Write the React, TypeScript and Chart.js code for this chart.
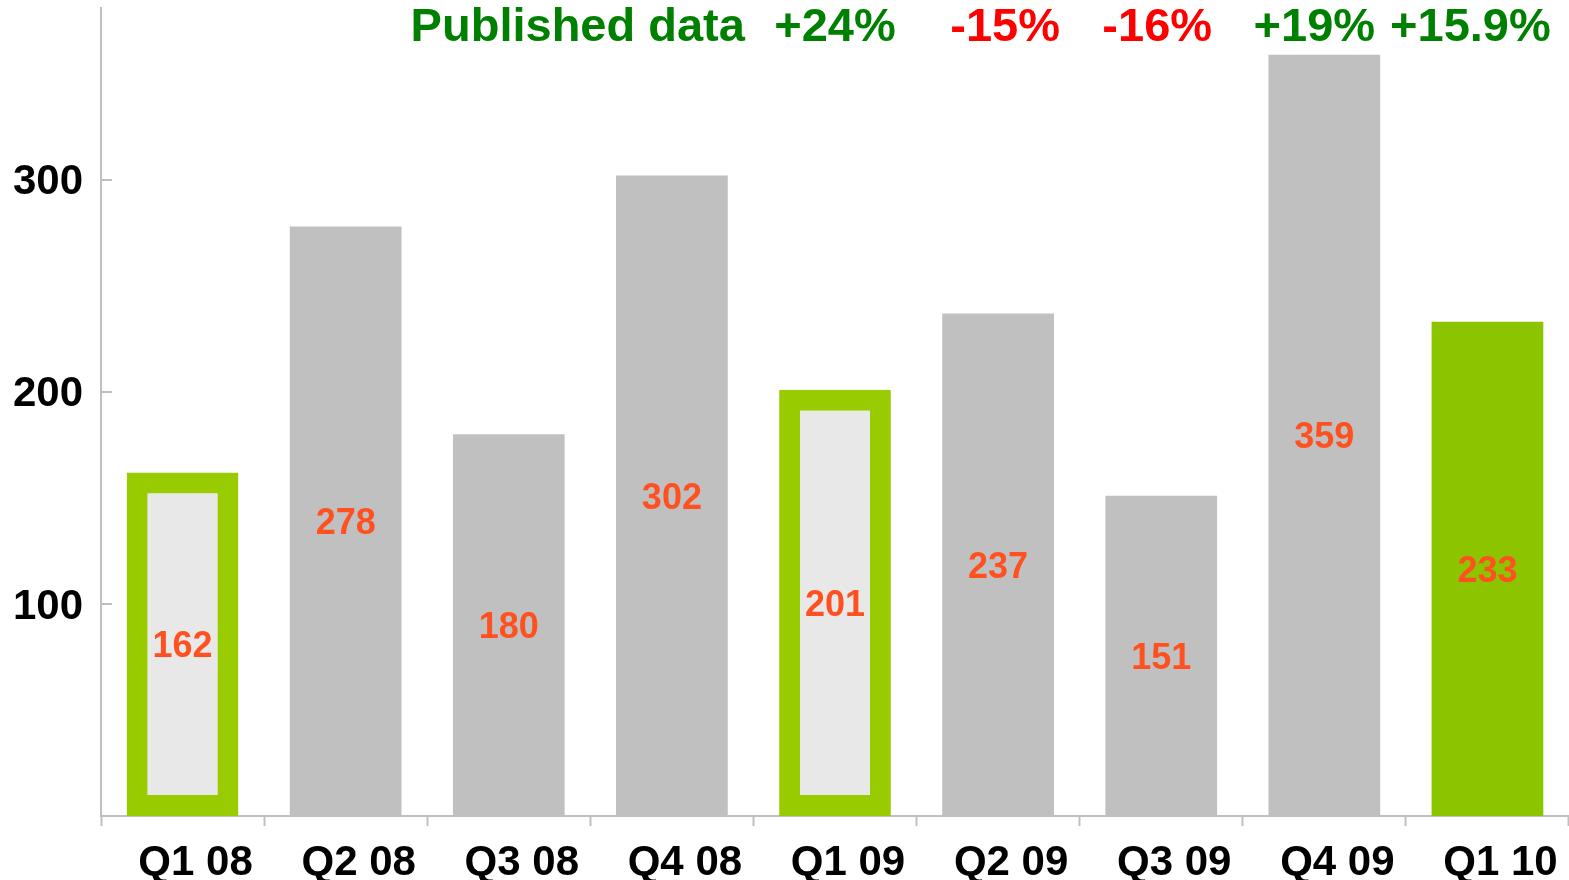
import React, { useEffect, useRef } from "react";
import { Chart, registerables } from "chart.js";

Chart.register(...registerables);

const categories = ["Q1 08", "Q2 08", "Q3 08", "Q4 08", "Q1 09", "Q2 09", "Q3 09", "Q4 09", "Q1 10"];
const values = [162, 278, 180, 302, 201, 237, 151, 359, 233];
const yTickValues = [100, 200, 300];
const growthLabels = ["+24%", "-15%", "-16%", "+19%", "+15.9%"];
const growthCategories = ["Q1 09", "Q2 09", "Q3 09", "Q4 09", "Q1 10"];
const headerText = "Published data";

const FONT = "'Liberation Sans', Arial, sans-serif";
const GRAY = "#c0c0c0";
const LIGHT = "#e8e8e8";
const LIME = "#99cc00";
const GREEN_BAR = "#8dc400";
const LABEL_RED = "#ff5020";
const TXT_GREEN = "#008000";
const TXT_RED = "#ff0000";

const barColors = ["light", "gray", "gray", "gray", "light", "gray", "gray", "gray", "green"];
const growthDx = [0, 7, -4, -10, -17];

const overlayPlugin = {
  id: "overlay",
  afterDatasetsDraw(chart: any) {
    const ctx = chart.ctx;
    const meta = chart.getDatasetMeta(0);
    ctx.save();
    // value labels in bars
    ctx.font = `bold 36px ${FONT}`;
    ctx.fillStyle = LABEL_RED;
    ctx.textAlign = "center";
    ctx.textBaseline = "middle";
    meta.data.forEach((bar: any, i: number) => {
      ctx.fillText(String(values[i]), bar.x, (bar.y + bar.base) / 2 + 3);
    });
    // inward y ticks
    const ys = chart.scales.y;
    ctx.strokeStyle = GRAY;
    ctx.lineWidth = 2;
    yTickValues.forEach((v) => {
      const py = Math.round(ys.getPixelForValue(v));
      ctx.beginPath();
      ctx.moveTo(chart.chartArea.left, py);
      ctx.lineTo(chart.chartArea.left + 11, py);
      ctx.stroke();
    });
    // header texts
    const xs = chart.scales.x;
    ctx.font = `bold 47px ${FONT}`;
    ctx.textBaseline = "alphabetic";
    ctx.textAlign = "right";
    ctx.fillStyle = TXT_GREEN;
    ctx.fillText(headerText, xs.getPixelForValue(3) + 73, 41);
    ctx.textAlign = "center";
    growthLabels.forEach((t, i) => {
      const idx = categories.indexOf(growthCategories[i]);
      ctx.fillStyle = t.startsWith("-") ? TXT_RED : TXT_GREEN;
      ctx.fillText(t, xs.getPixelForValue(idx) + growthDx[i], 41);
    });
    ctx.restore();
  },
};

export default function App() {
  const ref = useRef<HTMLCanvasElement>(null);
  useEffect(() => {
    if (!ref.current) return;
    const bg = barColors.map((c) => (c === "light" ? LIGHT : c === "green" ? GREEN_BAR : GRAY));
    const bc = barColors.map((c) => (c === "light" ? LIME : "rgba(0,0,0,0)"));
    const bw = barColors.map((c) => (c === "light" ? 21 : 0));
    const chart = new Chart(ref.current, {
      type: "bar",
      data: {
        labels: categories,
        datasets: [
          {
            data: values,
            backgroundColor: bg,
            borderColor: bc,
            borderWidth: bw,
            borderSkipped: false,
            categoryPercentage: 1,
            barPercentage: 0.685,
          },
        ],
      },
      options: {
        responsive: false,
        animation: false,
        devicePixelRatio: 1,
        layout: { padding: { top: 8, left: 0, right: 0, bottom: 0 } },
        plugins: { legend: { display: false }, tooltip: { enabled: false } },
        scales: {
          x: {
            offset: true,
            grid: {
              offset: true,
              drawOnChartArea: false,
              drawTicks: true,
              tickLength: 10,
              tickWidth: 2,
              tickColor: GRAY,
            },
            border: { color: GRAY, width: 2 },
            ticks: {
              color: "#000",
              font: { family: FONT, size: 42, weight: "bold" },
              labelOffset: 13,
              padding: 12,
              maxRotation: 0,
              autoSkip: false,
            },
            afterFit: (s: any) => {
              s.height = 64;
              s.paddingLeft = 0;
              s.paddingRight = 0;
            },
          },
          y: {
            min: 0,
            max: 381,
            grid: { display: true, drawOnChartArea: false, drawTicks: false },
            border: { color: GRAY, width: 2 },
            ticks: {
              color: "#000",
              font: { family: FONT, size: 42, weight: "bold" },
              padding: 18,
              labelOffset: 3,
            },
            afterBuildTicks: (s: any) => {
              s.ticks = yTickValues.map((v) => ({ value: v }));
            },
            afterFit: (s: any) => {
              s.width = 101;
              s.paddingTop = 0;
              s.paddingBottom = 0;
            },
          },
        },
      },
      plugins: [overlayPlugin],
    });
    return () => chart.destroy();
  }, []);
  return (
    <div style={{ position: "absolute", left: 0, top: 0, width: 1569, height: 880, background: "#fff" }}>
      <canvas ref={ref} width={1569} height={880} />
    </div>
  );
}
